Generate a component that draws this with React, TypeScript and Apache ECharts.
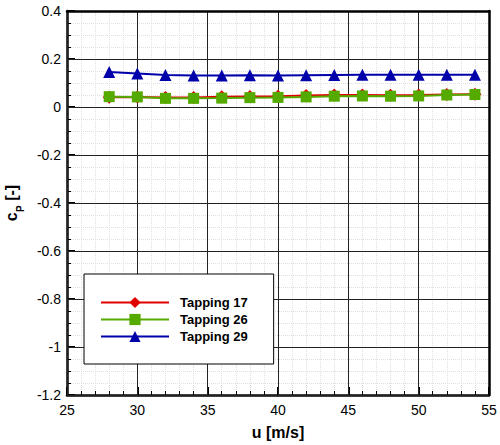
import React, { useEffect, useRef } from "react";
import * as echarts from "echarts";

const speeds = [28, 30, 32, 34, 36, 38, 40, 42, 44, 46, 48, 50, 52, 54];
const tapping17 = [0.041, 0.042, 0.040, 0.040, 0.043, 0.044, 0.045, 0.048, 0.050, 0.050, 0.049, 0.050, 0.052, 0.053];
const tapping26 = [0.043, 0.042, 0.036, 0.036, 0.037, 0.039, 0.040, 0.042, 0.045, 0.046, 0.045, 0.046, 0.050, 0.052];
const tapping29 = [0.146, 0.140, 0.133, 0.131, 0.131, 0.132, 0.131, 0.132, 0.133, 0.134, 0.134, 0.134, 0.134, 0.134];
const seriesNames = ["Tapping 17", "Tapping 26", "Tapping 29"];

const FONT = "'Liberation Sans', Arial, Helvetica, sans-serif";

export default function App() {
  const ref = useRef<HTMLDivElement>(null);
  useEffect(() => {
    if (!ref.current) return;
    const chart = echarts.init(ref.current, null, { renderer: "svg" });
    const pair = (ys: number[]) => speeds.map((x, i) => [x, ys[i]]);
    const baseX = {
      type: "value" as const,
      min: 25,
      max: 55,
      interval: 5,
      axisLine: { show: true, onZero: false, lineStyle: { color: "#000", width: 2.5 } },
    };
    const baseY = {
      type: "value" as const,
      min: -1.2,
      max: 0.4,
      interval: 0.2,
      axisLine: { show: true, onZero: false, lineStyle: { color: "#000", width: 2.5 } },
    };
    const majorGrid = { show: true, lineStyle: { color: "#222", width: 1 } };
    const minorGrid = { show: true, lineStyle: { color: "#e0e0e0", width: 1, type: "dotted" } };
    chart.setOption({
      animation: false,
      backgroundColor: "#fff",
      grid: { left: 67, top: 11, width: 422, height: 384, containLabel: false, outerBoundsMode: "none" },
      xAxis: [
        {
          ...baseX,
          position: "bottom",
          z: 0,
          name: "u [m/s]",
          nameLocation: "middle",
          nameGap: 29,
          nameTextStyle: { fontFamily: FONT, fontSize: 16, fontWeight: "bold", color: "#000" },
          axisTick: { show: true, inside: true, length: 8, lineStyle: { color: "#000", width: 2 } },
          minorTick: { show: true, splitNumber: 5, length: 4, lineStyle: { color: "#000", width: 1 } },
          axisLabel: { fontFamily: FONT, fontSize: 14, color: "#000", margin: 8 },
          splitLine: { show: false },
          minorSplitLine: minorGrid,
        },
        {
          ...baseX,
          position: "top",
          z: 1,
          axisTick: { show: false },
          minorTick: { show: false },
          axisLabel: { show: false },
          splitLine: majorGrid,
        },
      ],
      yAxis: [
        {
          ...baseY,
          position: "left",
          z: 0,
          name: "{b|c}{z| }{s|P}{b| [-]}",
          nameLocation: "middle",
          nameRotate: 90,
          nameGap: 38,
          nameTextStyle: {
            fontFamily: FONT,
            color: "#000",
            rich: {
              b: { fontFamily: FONT, fontSize: 16, fontWeight: "bold", color: "#000", lineHeight: 16, verticalAlign: "top" },
              z: { fontFamily: FONT, fontSize: 1, lineHeight: 22, verticalAlign: "top" },
              s: { fontFamily: FONT, fontSize: 10, fontWeight: "bold", color: "#000", lineHeight: 10, verticalAlign: "bottom" },
            },
          },
          axisTick: { show: true, inside: true, length: 8, lineStyle: { color: "#000", width: 2 } },
          minorTick: { show: true, splitNumber: 4, length: 4, lineStyle: { color: "#000", width: 1 } },
          axisLabel: {
            fontFamily: FONT,
            fontSize: 14,
            color: "#000",
            margin: 6,
            formatter: (v: number) => String(Math.round(v * 10) / 10),
          },
          splitLine: { show: false },
          minorSplitLine: minorGrid,
        },
        {
          ...baseY,
          position: "right",
          z: 1,
          axisTick: { show: false },
          minorTick: { show: false },
          axisLabel: { show: false },
          splitLine: majorGrid,
        },
      ],
      legend: {
        left: 84,
        top: 274,
        orient: "vertical",
        backgroundColor: "#fff",
        borderColor: "#000",
        borderWidth: 1,
        padding: [22, 26, 21, 16],
        itemWidth: 68,
        itemHeight: 14,
        itemGap: 4,
        textStyle: { fontFamily: FONT, fontSize: 13, fontWeight: "bold", color: "#000", padding: [0, 0, 0, 6] },
        data: seriesNames,
      },
      series: [
        {
          name: seriesNames[0],
          type: "line",
          data: pair(tapping17),
          symbol: "diamond",
          symbolSize: 13,
          color: "#e00000",
          lineStyle: { color: "#e00000", width: 2 },
          itemStyle: { color: "#e00000" },
          z: 3,
        },
        {
          name: seriesNames[1],
          type: "line",
          data: pair(tapping26),
          symbol: "rect",
          symbolSize: 11,
          color: "#55aa00",
          lineStyle: { color: "#55aa00", width: 2 },
          itemStyle: { color: "#55aa00" },
          z: 4,
        },
        {
          name: seriesNames[2],
          type: "line",
          data: pair(tapping29),
          symbol: "triangle",
          symbolSize: 12,
          color: "#0000aa",
          lineStyle: { color: "#0000aa", width: 2 },
          itemStyle: { color: "#0000aa" },
          z: 5,
        },
      ],
    });
    return () => chart.dispose();
  }, []);
  return <div ref={ref} style={{ width: 500, height: 445, position: "absolute", left: 0, top: 0 }} />;
}
